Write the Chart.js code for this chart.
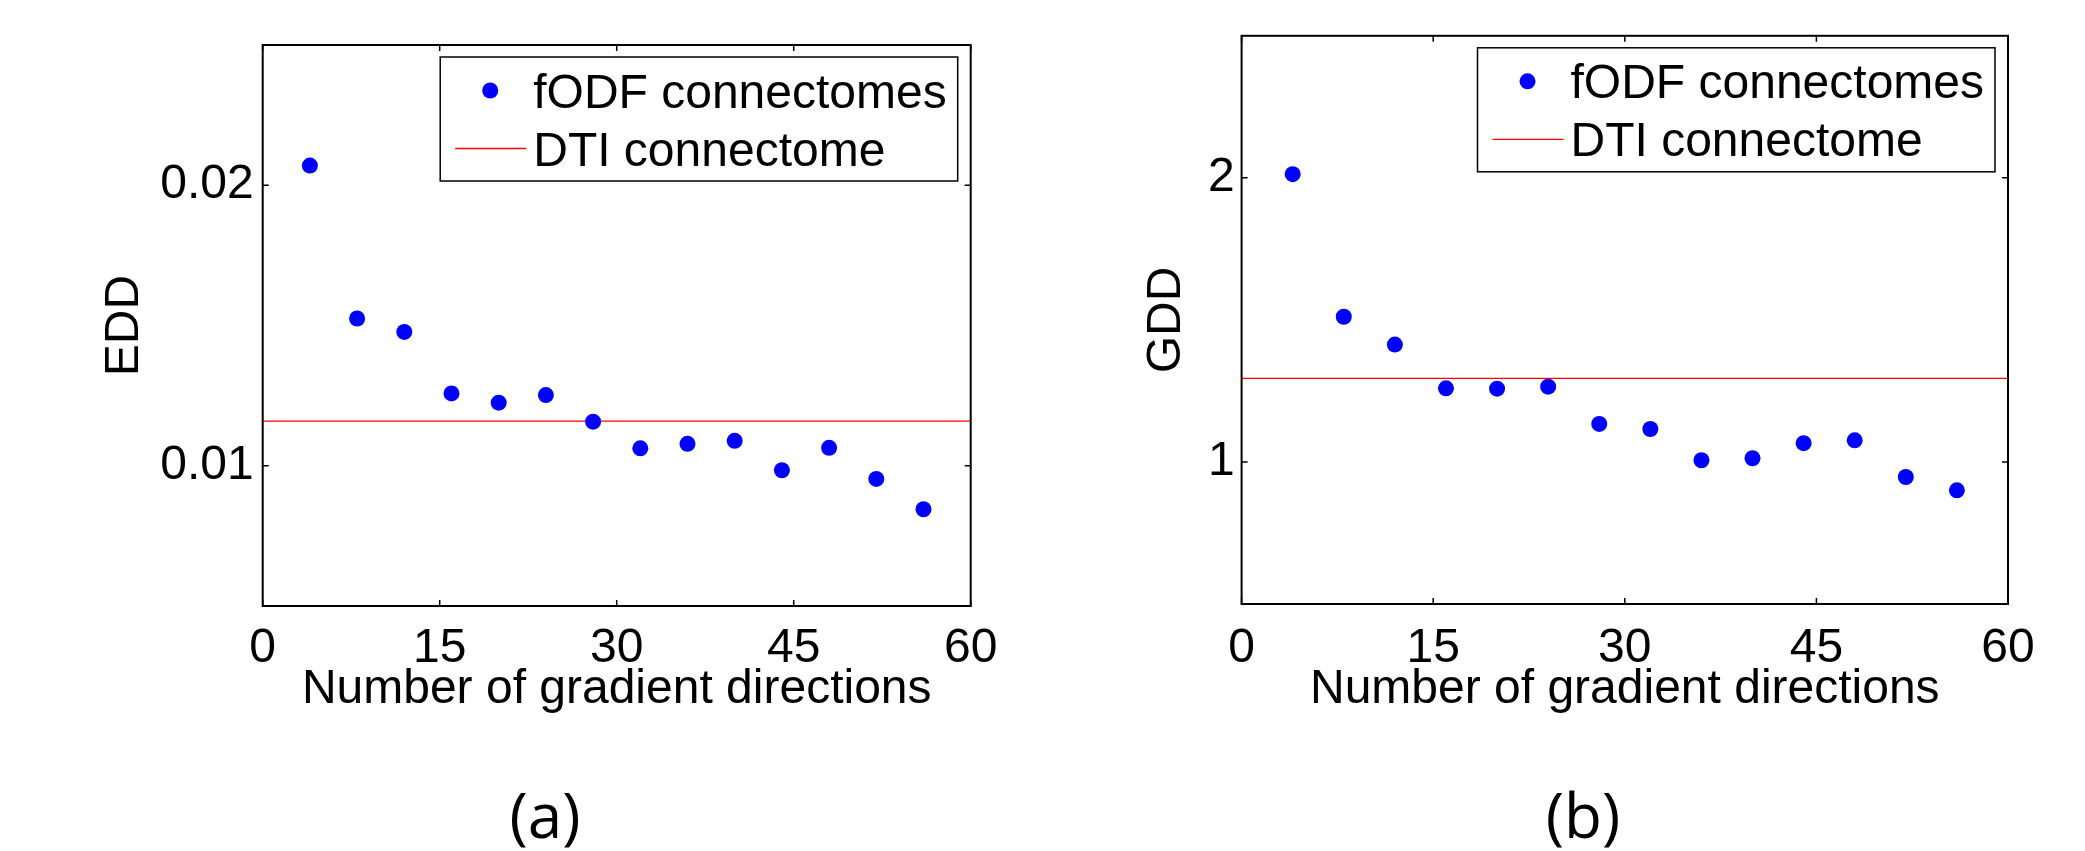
<!DOCTYPE html>
<html>
<head>
<meta charset="utf-8">
<script src="https://cdn.jsdelivr.net/npm/chart.js@4.4.1/dist/chart.umd.min.js"></script>
<style>
  body { margin:0; background:#fff; overflow:hidden; }
  #wrap { position:relative; width:2085px; height:851px; }
  canvas { position:absolute; top:0; }
  .cap { position:absolute; top:783px; width:200px; height:62px; line-height:62px; text-align:center;
         font-family:"Open Sans", sans-serif; font-size:62px; color:#000; }
</style>
</head>
<body>
<div id="wrap">
  <canvas id="chartA" width="1042" height="851" style="left:0px"></canvas>
  <canvas id="chartB" width="1043" height="851" style="left:1042px"></canvas>
  <div class="cap" style="left:445px">(a)</div>
  <div class="cap" style="left:1483px">(b)</div>
</div>
<script>
// data
var directions = [4, 8, 12, 16, 20, 24, 28, 32, 36, 40, 44, 48, 52, 56]
var eddValues = [0.0207, 0.01525, 0.01477, 0.01258, 0.01225, 0.01252, 0.01157, 0.01062, 0.01078, 0.01089, 0.00984, 0.01064, 0.00953, 0.00845]
var gddValues = [2.013, 1.511, 1.413, 1.259, 1.258, 1.265, 1.134, 1.116, 1.006, 1.013, 1.066, 1.076, 0.947, 0.900]
var eddDti = 0.01159
var gddDti = 1.294
var xTicks = [0, 15, 30, 45, 60]
var eddTicks = [0.01, 0.02]
var gddTicks = [1, 2]
var seriesLabels = ['fODF connectomes', 'DTI connectome']
var xLabel = 'Number of gradient directions'

var FONT = '"Liberation Sans", Arial, Helvetica, sans-serif'

// matlab style box with inward ticks
var boxPlugin = {
    id: 'boxPlugin',
    afterDatasetsDraw: function(chart) {
        var ctx = chart.ctx, a = chart.chartArea
        var sx = chart.scales.x, sy = chart.scales.y
        ctx.save()
        ctx.strokeStyle = '#000'
        ctx.lineWidth = 2
        ctx.strokeRect(a.left, a.top, a.right - a.left, a.bottom - a.top)
        ctx.lineWidth = 1.5
        ctx.beginPath()
        sx.ticks.forEach(function(t) {
            var px = sx.getPixelForValue(t.value)
            ctx.moveTo(px, a.bottom); ctx.lineTo(px, a.bottom - 6)
            ctx.moveTo(px, a.top); ctx.lineTo(px, a.top + 6)
        })
        sy.ticks.forEach(function(t) {
            var py = sy.getPixelForValue(t.value)
            ctx.moveTo(a.left, py); ctx.lineTo(a.left + 6, py)
            ctx.moveTo(a.right, py); ctx.lineTo(a.right - 6, py)
        })
        ctx.stroke()
        ctx.restore()
    }
}

// legend box in upper right of the axes
var legendPlugin = {
    id: 'boxLegend',
    afterDraw: function(chart) {
        var ctx = chart.ctx, a = chart.chartArea
        var ds = chart.data.datasets
        ctx.save()
        ctx.font = '48px ' + FONT
        var tw = 0
        ds.forEach(function(d) { tw = Math.max(tw, ctx.measureText(d.label).width) })
        var w = 93 + tw + 11
        var h = 124
        var right = a.right - 13
        var left = right - w
        var top = a.top + 12
        ctx.fillStyle = '#fff'
        ctx.fillRect(left, top, w, h)
        ctx.strokeStyle = '#000'
        ctx.lineWidth = 1.5
        ctx.strokeRect(left, top, w, h)
        ds.forEach(function(d, i) {
            var y = top + 33.5 + i * 58
            if (d.showLine) {
                ctx.strokeStyle = d.borderColor
                ctx.lineWidth = d.borderWidth
                ctx.beginPath()
                ctx.moveTo(left + 15, y); ctx.lineTo(left + 86, y)
                ctx.stroke()
            } else {
                ctx.fillStyle = d.pointBackgroundColor
                ctx.beginPath()
                ctx.arc(left + 50, y, d.pointRadius, 0, Math.PI * 2)
                ctx.fill()
            }
            ctx.fillStyle = '#000'
            ctx.textAlign = 'left'
            ctx.textBaseline = 'alphabetic'
            ctx.fillText(d.label, left + 93, y + 17)
        })
        ctx.restore()
    }
}

function makeChart(id, values, dti, yTicks, yMin, yMax, yTitle, dims) {
    var pts = []
    for (var i = 0; i < directions.length; i++) {
        pts.push({x: directions[i], y: values[i]})
    }
    var el = document.getElementById(id).getContext('2d')
    return new Chart(el, {
        type: 'scatter',
        data: {
            datasets: [
                {
                    label: seriesLabels[0],
                    data: pts,
                    pointRadius: 8,
                    pointHoverRadius: 8,
                    pointBackgroundColor: '#0000ff',
                    pointBorderWidth: 0,
                    borderColor: '#0000ff',
                    showLine: false
                },
                {
                    label: seriesLabels[1],
                    data: [{x: xTicks[0], y: dti}, {x: xTicks[xTicks.length - 1], y: dti}],
                    showLine: true,
                    pointRadius: 0,
                    borderColor: '#ff0000',
                    borderWidth: 1.3
                }
            ]
        },
        options: {
            responsive: false,
            animation: false,
            events: [],
            layout: { padding: { left: dims.padLeft, top: dims.padTop, right: dims.padRight, bottom: dims.padBottom } },
            plugins: { legend: { display: false }, tooltip: { enabled: false } },
            scales: {
                x: {
                    type: 'linear', min: 0, max: 60,
                    afterBuildTicks: function(s) { s.ticks = xTicks.map(function(v) { return {value: v} }) },
                    afterFit: function(s) { s.height = dims.xHeight },
                    grid: { display: false, drawTicks: false },
                    border: { display: false },
                    ticks: { color: '#000', padding: dims.xTickPad, maxRotation: 0, autoSkip: false,
                             font: { size: 48, family: FONT } },
                    title: { display: true, text: xLabel, color: '#000', padding: 0,
                             font: { size: 48, family: FONT } }
                },
                y: {
                    type: 'linear', min: yMin, max: yMax,
                    afterBuildTicks: function(s) { s.ticks = yTicks.map(function(v) { return {value: v} }) },
                    afterFit: function(s) { s.width = dims.yWidth },
                    grid: { display: false, drawTicks: false },
                    border: { display: false },
                    ticks: { color: '#000', padding: dims.yTickPad, autoSkip: false,
                             font: { size: 48, family: FONT },
                             callback: function(v) { return String(v) } },
                    title: { display: true, text: yTitle, color: '#000', padding: 0,
                             font: { size: 48, family: FONT } }
                }
            }
        },
        plugins: [boxPlugin, legendPlugin]
    })
}

makeChart('chartA', eddValues, eddDti, eddTicks, 0.005, 0.025, 'EDD',
    {padLeft: 96, padTop: 45, padRight: 71.3, padBottom: 132, yWidth: 166.7, xHeight: 113, xTickPad: 14, yTickPad: 9})
makeChart('chartB', gddValues, gddDti, gddTicks, 0.5, 2.5, 'GDD',
    {padLeft: 96, padTop: 31, padRight: 77, padBottom: 132, yWidth: 103.6, xHeight: 115, xTickPad: 16, yTickPad: 7})
</script>
</body>
</html>
